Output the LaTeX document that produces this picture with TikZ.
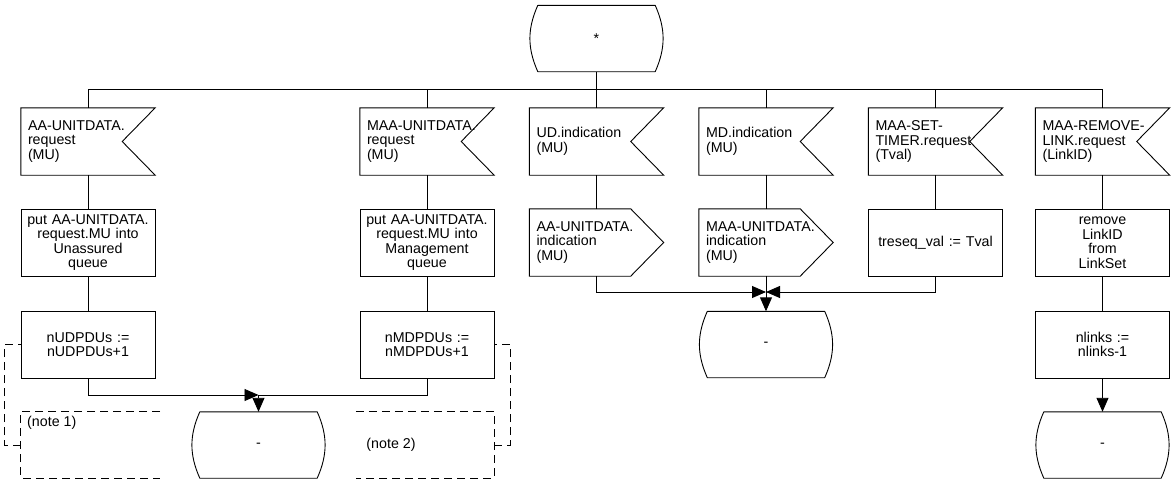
\documentclass[tikz,border=0pt]{standalone}
\usepackage{fontspec}
\setmainfont{Liberation Sans}
\usetikzlibrary{arrows.meta}
\newcommand\InSig[1]{\draw[ln] (#1.north west) -- (#1.north east) -- ([xshift=-33pt]#1.east) -- (#1.south east) -- (#1.south west) -- cycle;}
\newcommand\OutSig[1]{\draw[ln] (#1.north west) -- ([xshift=-33pt]#1.north east) -- (#1.east) -- ([xshift=-33pt]#1.south east) -- (#1.south west) -- cycle;}
\newcommand\StateSh[1]{\draw[ln,line join=round] ([xshift=8pt]#1.north west) -- ([xshift=-8pt]#1.north east) to[bend left=24] ([xshift=-8pt]#1.south east) -- ([xshift=8pt]#1.south west) to[bend left=24] ([xshift=8pt]#1.north west);}
\begin{document}
\begin{tikzpicture}[x=1pt,y=-1pt,
  ln/.style={line width=0.9pt},
  every node/.style={font=\fontsize{14.25}{14.5}\selectfont, inner sep=0pt},
  box/.style={rectangle, draw, ln, minimum width=134pt, minimum height=67pt, text width=132pt, align=center},
  sigbox/.style={rectangle, minimum width=134pt, minimum height=67pt, text width=120pt, align=left},
  stbox/.style={rectangle, minimum width=133pt, minimum height=66pt, align=center},
  arr/.style={ln, -{Triangle[length=14pt,width=12pt]}},
  cmt/.style={ln, dash pattern=on 8pt off 5pt},
]
\useasboundingbox (0,0) rectangle (1176,483);

% top state
\node[stbox] (s0) at (596.5,38.5) {*};
\coordinate (busL) at (88,89);
\coordinate (busR) at (1102.5,89);

% row 1: inputs
\node[sigbox] (i1) at (88,141.5) {AA-UNITDATA.\\request\\(MU)};
\node[sigbox] (i2) at (427,141.5) {MAA-UNITDATA.\\request\\(MU)};
\node[sigbox] (i3) at (596.5,141.5) {UD.indication\\(MU)};
\node[sigbox] (i4) at (766,141.5) {MD.indication\\(MU)};
\node[sigbox] (i5) at (935.5,141.5) {MAA-SET-\\TIMER.request\\(Tval)};
\node[sigbox] (i6) at (1102.5,141.5) {MAA-REMOVE-\\LINK.request\\(LinkID)};

% row 2
\node[box] (t1) at (88,242.5) {put AA-UNITDATA.\\request.MU into\\Unassured\\queue};
\node[box] (t2) at (427,242.5) {put AA-UNITDATA.\\request.MU into\\Management\\queue};
\node[sigbox] (o3) at (596.5,242.5) {AA-UNITDATA.\\indication\\(MU)};
\node[sigbox] (o4) at (766,242.5) {MAA-UNITDATA.\\indication\\(MU)};
\node[box] (t5) at (935.5,242.5) {treseq\_val := Tval};
\node[box] (t6) at (1102.5,242.5) {remove\\LinkID\\from\\LinkSet};

% row 3
\node[box] (b1) at (88,344.5) {nUDPDUs :=\\nUDPDUs+1};
\node[box] (b2) at (427,344.5) {nMDPDUs :=\\nMDPDUs+1};
\node[stbox] (s2) at (766,344.5) {-};
\node[box] (b6) at (1102.5,344.5) {nlinks :=\\nlinks-1};

% row 4
\node[stbox] (s1) at (258.5,445) {-};
\node[stbox] (s3) at (1102.5,445) {-};

% outlines
\StateSh{s0}
\StateSh{s1}
\StateSh{s2}
\StateSh{s3}
\foreach \n in {i1,i2,i3,i4,i5,i6} {\InSig{\n}}
\OutSig{o3}
\OutSig{o4}

% bus
\draw[line width=1.6pt] (s0.south) -- (s0.south |- busL);
\draw[ln] (busL) -- (busR);
\foreach \n in {i1,i2,i3,i4,i5,i6} {\draw[ln] (\n.north) -- (\n.north |- busL);}

% verticals
\draw[ln] (i1.south) -- (t1.north);
\draw[ln] (i2.south) -- (t2.north);
\draw[ln] (i3.south) -- (o3.north);
\draw[ln] (i4.south) -- (o4.north);
\draw[ln] (i5.south) -- (t5.north);
\draw[ln] (i6.south) -- (t6.north);
\draw[ln] (t1.south) -- (b1.north);
\draw[ln] (t2.south) -- (b2.north);
\draw[ln] (t6.south) -- (b6.north);

% merges
\coordinate (j1) at (258.5,395);
\draw[arr] (b1.south) |- (j1);
\draw[ln] (b2.south) |- (j1);
\draw[arr] (j1) -- (s1.north);
\coordinate (j2) at (766,292);
\draw[arr] (o3.south) |- (j2);
\draw[arr] (t5.south) |- (j2);
\draw[arr] (o4.south) -- (s2.north);
\draw[arr] (b6.south) -- (s3.north);

% comments
\node[minimum width=139pt, minimum height=66pt] (n1) at (90.5,445) {};
\node[anchor=north west] (n1t) at (27,416) {(note 1)};
\draw[cmt] (n1.north east) -- (n1.north west) -- (n1.south west) -- (n1.south east);
\draw[cmt] (n1.west) -- ++(-16,0) |- (b1.west);
\node[minimum width=138pt, minimum height=66pt] (n2) at (425,445) {};
\node (n2t) at (391,445) {(note 2)};
\draw[cmt] (n2.north west) -- (n2.north east) -- (n2.south east) -- (n2.south west);
\draw[cmt] (n2.east) -- ++(16,0) |- (b2.east);
\end{tikzpicture}
\end{document}
